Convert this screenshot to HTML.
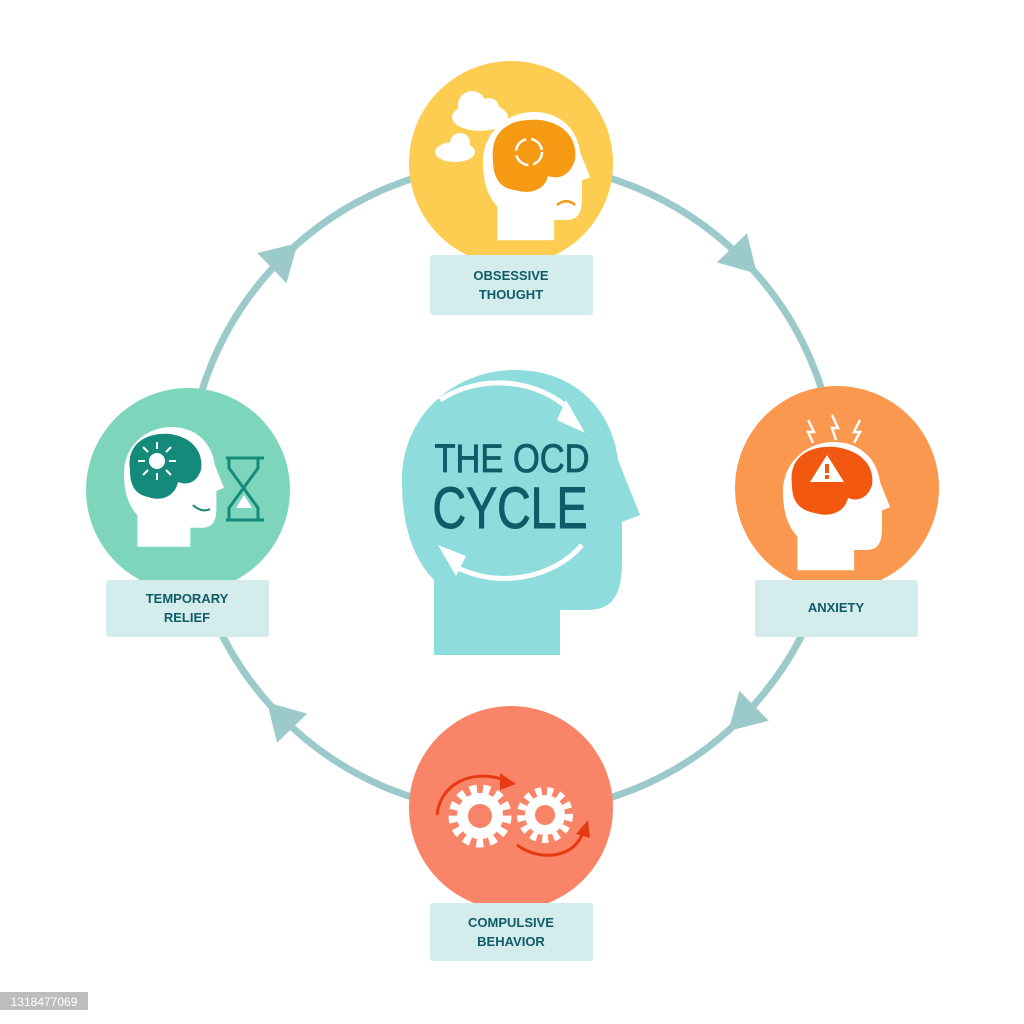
<!DOCTYPE html>
<html><head><meta charset="utf-8"><style>
html,body{margin:0;padding:0;background:#fff;}
svg{display:block;}
text{font-family:"Liberation Sans",sans-serif;}
</style></head><body>
<svg width="1024" height="1024" viewBox="0 0 1024 1024" xmlns="http://www.w3.org/2000/svg">
<defs>
<path id="head" d="M434,655 L434,580 C410,555 402,520 402,480 C402,415 455,370 515,370 C575,370 612,410 618,460 L640,515 L622,522 L622,560 C622,600 610,610 585,610 L560,610 L560,655 Z"/>
</defs>
<rect width="1024" height="1024" fill="#fff"/>
<!-- ring -->
<circle cx="512" cy="488" r="325" fill="none" stroke="#9ccaca" stroke-width="7"/>
<g fill="#9ccaca">
<g transform="translate(512,488) rotate(-134) translate(325,0) rotate(90)"><polygon points="16,0 -20,-21 -20,21"/></g>
<g transform="translate(512,488) rotate(-44) translate(325,0) rotate(90)"><polygon points="16,0 -20,-21 -20,21"/></g>
<g transform="translate(512,488) rotate(45.5) translate(325,0) rotate(90)"><polygon points="16,0 -20,-21 -20,21"/></g>
<g transform="translate(512,488) rotate(136) translate(325,0) rotate(90)"><polygon points="16,0 -20,-21 -20,21"/></g>
</g>

<!-- center head -->
<use href="#head" fill="#8fdcdd"/>
<path d="M440,400 A95,80 0 0 1 570,410" fill="none" stroke="#fff" stroke-width="5"/>
<polygon points="585,433 557,420 566,400" fill="#fff"/>
<path d="M582,545 A95,80 0 0 1 452,565" fill="none" stroke="#fff" stroke-width="5"/>
<polygon points="438,545 466,556 456,576" fill="#fff"/>
<text x="512" y="472" text-anchor="middle" font-size="40" fill="#0e5c67" stroke="#0e5c67" stroke-width="0.8" textLength="155" lengthAdjust="spacingAndGlyphs">THE OCD</text>
<text x="510" y="528" text-anchor="middle" font-size="58" fill="#0e5c67" stroke="#0e5c67" stroke-width="1" textLength="155" lengthAdjust="spacingAndGlyphs">CYCLE</text>

<!-- top node -->
<circle cx="511" cy="163" r="102" fill="#fccd50"/>
<g fill="#fff">
<ellipse cx="480" cy="117" rx="28" ry="14"/><circle cx="472" cy="105" r="14"/><circle cx="489" cy="108" r="10"/>
<ellipse cx="455" cy="152" rx="20" ry="10"/><circle cx="460" cy="143" r="10"/>
</g>
<use href="#head" fill="#fff" transform="translate(483,112) scale(0.45) translate(-402,-370)"/>
<path d="M493,160 C490,130 510,118 540,120 C565,123 578,140 575,160 C570,175 560,180 548,176 C545,190 530,195 515,190 C498,188 493,175 493,160 Z" fill="#f59a12"/>
<circle cx="529" cy="152" r="13" fill="none" stroke="#fff" stroke-width="2.5" stroke-dasharray="16 5"/>
<path d="M557,205 C563,200 570,200 575,205" fill="none" stroke="#f59a12" stroke-width="2.5"/>
<rect x="430" y="255" width="163" height="60" rx="3" fill="#d5ecec"/>
<text x="511" y="280" text-anchor="middle" font-size="13" font-weight="bold" fill="#0e5c67">OBSESSIVE</text>
<text x="511" y="299" text-anchor="middle" font-size="13" font-weight="bold" fill="#0e5c67">THOUGHT</text>

<!-- right node -->
<circle cx="837" cy="488" r="102" fill="#fb984f"/>
<use href="#head" fill="#fff" transform="translate(783,442) scale(0.45) translate(-402,-370)"/>
<path d="M792,485 C788,458 808,445 835,447 C860,450 875,465 872,485 C868,498 858,502 848,498 C845,512 830,518 815,513 C798,510 792,500 792,485 Z" fill="#f2580f"/>
<polygon points="827,455 810,482 844,482" fill="#fff"/>
<rect x="825" y="464" width="4" height="9" fill="#f2580f"/><rect x="825" y="475" width="4" height="4" fill="#f2580f"/>
<g fill="none" stroke="#fff" stroke-width="2.5">
<path d="M808,420 L814,432 L808,432 L813,443"/><path d="M832,415 L838,428 L832,428 L836,440"/><path d="M860,420 L854,432 L860,432 L854,443"/>
</g>
<rect x="755" y="580" width="163" height="57" rx="3" fill="#d5ecec"/>
<text x="836" y="612" text-anchor="middle" font-size="13" font-weight="bold" fill="#0e5c67">ANXIETY</text>

<!-- bottom node -->
<circle cx="511" cy="808" r="102" fill="#fa8467"/>
<g>
<circle cx="480" cy="816" r="27" fill="none" stroke="#fff" stroke-width="9" stroke-dasharray="7 6"/>
<circle cx="480" cy="816" r="23" fill="#fff"/><circle cx="480" cy="816" r="12" fill="#fa8467"/>
<circle cx="545" cy="815" r="24" fill="none" stroke="#fff" stroke-width="8" stroke-dasharray="6 5.5"/>
<circle cx="545" cy="815" r="20" fill="#fff"/><circle cx="545" cy="815" r="10" fill="#fa8467"/>
</g>
<path d="M437,815 C440,785 470,768 505,780" fill="none" stroke="#e63b12" stroke-width="3"/>
<polygon points="516,784 500,773 500,790" fill="#e63b12"/>
<path d="M517,845 C540,862 575,858 583,832" fill="none" stroke="#e63b12" stroke-width="3"/>
<polygon points="588,820 576,834 590,838" fill="#e63b12"/>
<rect x="430" y="903" width="163" height="58" rx="3" fill="#d5ecec"/>
<text x="511" y="927" text-anchor="middle" font-size="13" font-weight="bold" fill="#0e5c67">COMPULSIVE</text>
<text x="511" y="946" text-anchor="middle" font-size="13" font-weight="bold" fill="#0e5c67">BEHAVIOR</text>

<!-- left node -->
<circle cx="188" cy="490" r="102" fill="#7dd6bc"/>
<use href="#head" fill="#fff" transform="translate(124,427) scale(0.42) translate(-402,-370)"/>
<path d="M130,470 C126,445 145,432 170,434 C192,437 204,452 201,470 C197,482 188,486 178,482 C175,496 162,502 148,497 C134,494 130,484 130,470 Z" fill="#148a7a"/>
<circle cx="157" cy="461" r="8" fill="#fff"/>
<g stroke="#fff" stroke-width="2" transform="translate(157,461)">
<line x1="12" y1="0" x2="19" y2="0"/><line x1="-12" y1="0" x2="-19" y2="0"/><line x1="0" y1="12" x2="0" y2="19"/><line x1="0" y1="-12" x2="0" y2="-19"/>
<line x1="9" y1="9" x2="14" y2="14"/><line x1="-9" y1="9" x2="-14" y2="14"/><line x1="9" y1="-9" x2="14" y2="-14"/><line x1="-9" y1="-9" x2="-14" y2="-14"/>
</g>
<path d="M193,505 C198,510 205,512 210,509" fill="none" stroke="#148a7a" stroke-width="2"/>
<g fill="none" stroke="#148a7a" stroke-width="3">
<line x1="226" y1="458" x2="264" y2="458"/><line x1="226" y1="520" x2="264" y2="520"/>
<path d="M229,458 L229,468 L258,508 L258,520 M258,458 L258,468 L229,508 L229,520"/>
</g>
<polygon points="236,508 252,508 244,495" fill="#fff"/>
<rect x="106" y="580" width="163" height="57" rx="3" fill="#d5ecec"/>
<text x="187" y="603" text-anchor="middle" font-size="13" font-weight="bold" fill="#0e5c67">TEMPORARY</text>
<text x="187" y="622" text-anchor="middle" font-size="13" font-weight="bold" fill="#0e5c67">RELIEF</text>

<!-- id tag -->
<rect x="0" y="992" width="88" height="18" fill="#bdbdbd"/>
<text x="44" y="1006" text-anchor="middle" font-size="12" fill="#fff">1318477069</text>
</svg>
</body></html>
